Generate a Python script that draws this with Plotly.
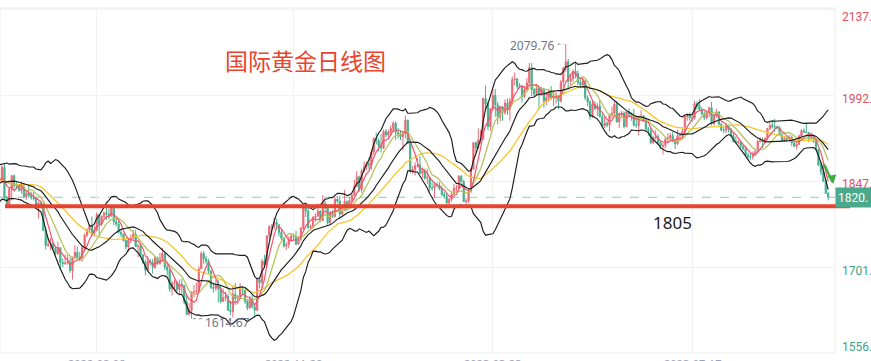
import pandas as pd
import plotly.graph_objects as go

# ---------------- data ----------------
# closes before the first visible candle (only used to warm up the indicators)
hist_close = [1896, 1863, 1868, 1881, 1876, 1883, 1854, 1838, 1853, 1822, 1811, 1824, 1815, 1815, 1841,
              1846, 1853, 1866, 1853, 1851, 1853, 1855, 1837, 1847, 1868, 1851, 1841, 1852, 1853, 1848]

close = [
    1871, 1819, 1808, 1834, 1857, 1840, 1839, 1832, 1838, 1822, 1827, 1823, 1820, 1818, 1807,
    1811, 1809, 1764, 1739, 1740, 1742, 1734, 1725, 1735, 1710, 1708, 1709, 1711, 1696, 1718, 1727, 1719, 1717, 1735, 1756, 1765,
    1772, 1760, 1765, 1791, 1775, 1788, 1794, 1792, 1789, 1802, 1779, 1775, 1761, 1758, 1747, 1736, 1748, 1751, 1758, 1737, 1738, 1723, 1711,
    1697, 1712, 1710, 1702, 1718, 1708, 1716, 1725, 1702, 1697, 1665, 1675, 1676, 1664, 1673, 1671, 1643, 1622, 1628, 1660, 1660, 1661,
    1699, 1725, 1716, 1712, 1695, 1668, 1666, 1673, 1666, 1644, 1650, 1652, 1629, 1627, 1656, 1649, 1652, 1665, 1663, 1644, 1633,
    1648, 1635, 1629, 1681, 1676, 1712, 1706, 1755, 1771, 1771, 1778, 1774, 1761, 1751, 1738, 1740, 1749, 1755, 1754, 1741, 1749, 1768,
    1803, 1797, 1769, 1771, 1786, 1789, 1797, 1781, 1810, 1807, 1777, 1793, 1788, 1817, 1814, 1792, 1798, 1813, 1804, 1815, 1824,
    1839, 1855, 1833, 1865, 1872, 1877, 1875, 1897, 1920, 1916, 1908, 1904, 1932, 1926, 1931, 1937, 1946, 1930, 1928, 1923, 1928,
    1951, 1912, 1865, 1867, 1874, 1875, 1861, 1865, 1853, 1854, 1836, 1836, 1842, 1841, 1835, 1825, 1822, 1811, 1817, 1826,
    1836, 1836, 1856, 1847, 1813, 1814, 1831, 1868, 1913, 1904, 1918, 1919, 1988, 1978, 1940, 1970, 1993, 1977, 1956, 1973, 1964, 1980, 1969,
    1984, 2020, 2021, 2008, 2007, 1991, 2003, 2014, 2040, 2003, 1995, 2005, 1994, 2004, 1983, 1989, 1998, 1989, 1989, 1990,
    1983, 2016, 2039, 2050, 2017, 2021, 2034, 2030, 2015, 2011, 2017, 1989, 1982, 1957, 1978, 1971, 1975, 1957, 1941, 1946, 1943, 1959, 1963,
    1978, 1948, 1961, 1963, 1940, 1965, 1961, 1957, 1943, 1942, 1957, 1958, 1951, 1936, 1933, 1913, 1921, 1923, 1913, 1907, 1908, 1919,
    1921, 1925, 1915, 1911, 1925, 1925, 1932, 1957, 1961, 1955, 1955, 1979, 1977, 1969, 1962, 1955, 1965, 1972, 1945, 1959, 1965,
    1944, 1934, 1934, 1943, 1936, 1925, 1915, 1913, 1914, 1907, 1902, 1892, 1889, 1889, 1894, 1898, 1915, 1917, 1914, 1920, 1937, 1942, 1940,
    1940, 1938, 1926, 1916, 1920, 1919, 1922, 1913, 1907, 1910, 1924, 1933, 1931, 1930, 1920, 1925, 1915, 1901, 1875, 1864, 1848,
    1827, 1820.4,
]

high = [
    1875, 1877, 1823, 1837, 1858, 1859, 1846, 1842, 1847, 1845, 1831, 1840, 1830, 1829, 1821,
    1813, 1812, 1812, 1770, 1752, 1752, 1745, 1737, 1745, 1736, 1717, 1724, 1723, 1719, 1720, 1739, 1737, 1728, 1738, 1759, 1768,
    1775, 1788, 1772, 1795, 1792, 1790, 1796, 1807, 1801, 1802, 1802, 1784, 1782, 1766, 1759, 1749, 1750, 1757, 1765, 1765, 1742, 1740, 1724,
    1715, 1721, 1716, 1716, 1721, 1720, 1726, 1735, 1729, 1707, 1699, 1679, 1681, 1678, 1681, 1682, 1672, 1654, 1641, 1661, 1672, 1676,
    1703, 1729, 1729, 1721, 1716, 1697, 1676, 1680, 1681, 1671, 1666, 1660, 1656, 1645, 1670, 1675, 1655, 1675, 1670, 1667, 1648,
    1653, 1657, 1638, 1683, 1683, 1716, 1723, 1756, 1773, 1775, 1786, 1784, 1774, 1767, 1752, 1744, 1754, 1759, 1759, 1764, 1755, 1770,
    1805, 1805, 1810, 1774, 1789, 1793, 1810, 1798, 1824, 1814, 1808, 1798, 1799, 1821, 1823, 1823, 1800, 1833, 1815, 1820, 1826,
    1850, 1865, 1857, 1869, 1881, 1880, 1887, 1901, 1922, 1930, 1920, 1928, 1935, 1936, 1935, 1942, 1949, 1949, 1938, 1934, 1932,
    1959, 1952, 1919, 1873, 1880, 1887, 1890, 1871, 1869, 1869, 1856, 1846, 1845, 1846, 1847, 1840, 1830, 1827, 1819, 1830,
    1843, 1841, 1858, 1858, 1850, 1819, 1834, 1870, 1914, 1915, 1937, 1935, 1989, 2010, 1983, 1972, 2003, 2004, 1982, 1975, 1975, 1986, 1988,
    1989, 2025, 2032, 2022, 2014, 2010, 2009, 2022, 2048, 2048, 2006, 2012, 2008, 2008, 2006, 1994, 2003, 2009, 1999, 1999,
    1991, 2019, 2041, 2079.76, 2055, 2028, 2037, 2048, 2035, 2021, 2022, 2020, 1993, 1985, 1984, 1983, 1980, 1985, 1962, 1957, 1950, 1961, 1974,
    1983, 1983, 1964, 1967, 1966, 1967, 1971, 1964, 1970, 1959, 1959, 1968, 1960, 1953, 1940, 1939, 1925, 1934, 1927, 1916, 1912, 1922,
    1929, 1930, 1931, 1919, 1935, 1930, 1937, 1960, 1963, 1964, 1960, 1984, 1983, 1987, 1973, 1966, 1966, 1974, 1982, 1962, 1970,
    1966, 1947, 1940, 1946, 1943, 1938, 1929, 1923, 1918, 1916, 1910, 1905, 1896, 1895, 1898, 1903, 1918, 1922, 1922, 1922, 1938, 1948, 1949,
    1953, 1942, 1941, 1928, 1923, 1924, 1926, 1925, 1917, 1915, 1927, 1936, 1937, 1947, 1931, 1930, 1926, 1917, 1903, 1880, 1880,
    1850, 1830,
]

low = [
    1844, 1815, 1805, 1806, 1815, 1835, 1834, 1830, 1826, 1820, 1816, 1820, 1816, 1815, 1805,
    1784, 1804, 1763, 1732, 1736, 1731, 1731, 1722, 1723, 1697, 1702, 1706, 1706, 1692, 1681, 1717, 1716, 1712, 1711, 1731, 1753,
    1761, 1754, 1754, 1762, 1754, 1772, 1784, 1782, 1783, 1787, 1773, 1771, 1759, 1753, 1745, 1732, 1728, 1743, 1749, 1736, 1719, 1721, 1708,
    1688, 1696, 1705, 1691, 1699, 1706, 1706, 1712, 1697, 1688, 1660, 1654, 1662, 1660, 1654, 1657, 1639, 1621, 1620, 1614.67, 1651, 1655,
    1659, 1699, 1708, 1707, 1691, 1665, 1659, 1662, 1642, 1641, 1643, 1645, 1628, 1621, 1617, 1638, 1639, 1651, 1657, 1640, 1629,
    1631, 1632, 1617, 1628, 1666, 1667, 1703, 1701, 1749, 1755, 1766, 1765, 1754, 1747, 1735, 1731, 1734, 1746, 1747, 1739, 1740, 1746,
    1765, 1787, 1767, 1765, 1768, 1779, 1787, 1778, 1780, 1798, 1774, 1776, 1785, 1786, 1810, 1784, 1790, 1797, 1797, 1802, 1812,
    1822, 1838, 1830, 1828, 1863, 1866, 1868, 1867, 1892, 1910, 1898, 1896, 1902, 1922, 1918, 1924, 1930, 1917, 1920, 1917, 1900,
    1920, 1911, 1861, 1860, 1857, 1871, 1860, 1853, 1850, 1843, 1830, 1831, 1819, 1837, 1832, 1822, 1818, 1808, 1804, 1813,
    1823, 1830, 1834, 1845, 1813, 1809, 1811, 1828, 1867, 1896, 1902, 1911, 1918, 1970, 1934, 1933, 1967, 1957, 1944, 1949, 1950, 1960, 1960,
    1950, 1980, 2010, 2004, 2005, 1981, 1989, 2000, 2013, 1992, 1991, 1994, 1969, 1992, 1972, 1976, 1982, 1985, 1975, 1979,
    1970, 1981, 2006, 2033, 2002, 2010, 2016, 2022, 2010, 2005, 2006, 1985, 1975, 1952, 1955, 1968, 1958, 1956, 1937, 1938, 1939, 1932, 1954,
    1957, 1947, 1938, 1955, 1937, 1940, 1958, 1950, 1940, 1938, 1925, 1954, 1948, 1932, 1925, 1911, 1910, 1918, 1911, 1902, 1893, 1903,
    1913, 1918, 1914, 1902, 1909, 1917, 1922, 1928, 1950, 1950, 1948, 1952, 1969, 1967, 1959, 1951, 1952, 1956, 1942, 1942, 1955,
    1942, 1932, 1929, 1929, 1930, 1922, 1913, 1910, 1910, 1904, 1900, 1890, 1885, 1884, 1884, 1891, 1895, 1913, 1904, 1913, 1917, 1934, 1937,
    1931, 1935, 1924, 1915, 1914, 1915, 1915, 1907, 1905, 1901, 1910, 1922, 1929, 1929, 1914, 1919, 1913, 1900, 1873, 1858, 1846,
    1826, 1815,
]

x_tick_idx = [39, 120, 202, 284]
x_tick_text = ["2022-08-08", "2022-11-29", "2023-03-23", "2023-07-17"]
y_tick_vals = [1556.56, 1701.86, 1847.16, 1992.46, 2137.76]
y_tick_text = ["1556.", "1701.", "1847.", "1992.", "2137."]
support_level = 1805
support_text = "1805"
title_text = "国际黄金日线图"
high_mark = 2079.76
low_mark = 1614.67

assert len(close) == len(high) == len(low)

# ---------------- derived ----------------
n = len(close)
idx = list(range(n))
open_ = [hist_close[-1]] + close[:-1]          # daily open = previous close
high = [max(h, o, c) for h, o, c in zip(high, open_, close)]
low = [min(l, o, c) for l, o, c in zip(low, open_, close)]

s = pd.Series(hist_close + close, dtype=float)
k = len(hist_close)
ma5 = s.rolling(5).mean()
ma10 = s.rolling(10).mean()
ma30 = s.rolling(30).mean()
mid = s.rolling(20).mean()
sd = s.rolling(20).std(ddof=0)
upper = mid + 2 * sd
lower = mid - 2 * sd
xi = list(range(-1, n))
sl = slice(k - 1, k + n)

UP = "#e96b76"
DN = "#45b08f"

fig = go.Figure()
fig.add_trace(go.Candlestick(
    x=idx, open=open_, high=high, low=low, close=close,
    increasing=dict(line=dict(color=UP, width=1), fillcolor=UP),
    decreasing=dict(line=dict(color=DN, width=1), fillcolor=DN),
    whiskerwidth=0, hoverinfo="skip", showlegend=False))

def line(y, color, width):
    fig.add_trace(go.Scatter(x=xi, y=list(y[sl]), mode="lines",
                             line=dict(color=color, width=width),
                             hoverinfo="skip", showlegend=False))

line(ma30, "#f8c630", 1.3)
line(ma10, "#b9c35e", 1.3)
line(ma5, "#f0556d", 1.2)
line(upper, "#1c1c1c", 1.15)
line(mid, "#1c1c1c", 1.15)
line(lower, "#1c1c1c", 1.15)

W, H = 871, 361
L, R, T, B = 0, 36, 8, 8
PW, PH = W - L - R, H - T - B

def px(xp):
    return (xp - L) / PW

def py(yp):
    return (H - B - yp) / PH

shapes = [
    dict(type="rect", xref="paper", yref="paper", x0=0, x1=1, y0=0, y1=1,
         line=dict(color="#ececec", width=1), layer="below"),
    dict(type="line", xref="paper", yref="y", x0=0, x1=1, y0=close[-1], y1=close[-1],
         line=dict(color="#86cfb7", width=1, dash="dash"), layer="below"),
    dict(type="line", xref="paper", yref="y", x0=px(5), x1=px(850),
         y0=support_level, y1=support_level, line=dict(color="#e8432d", width=4)),
    dict(type="line", xref="x", yref="y", x0=228.6, x1=231.4, y0=high_mark, y1=high_mark,
         line=dict(color="#8a8fa0", width=1, dash="dot")),
    dict(type="line", xref="x", yref="y", x0=78.6, x1=82.6, y0=low_mark, y1=low_mark,
         line=dict(color="#8a8fa0", width=1, dash="dot")),
    # hand-drawn green arrow shaft at the right end
    dict(type="line", xref="x", yref="y", x0=338.4, x1=341.8, y0=1876, y1=1846,
         line=dict(color="#3fae3f", width=2.2)),
]

ann = []
ann.append(dict(xref="paper", yref="paper", x=px(305), y=py(60), text=title_text,
                showarrow=False, xanchor="center", yanchor="middle",
                font=dict(family="Noto Sans CJK SC", size=23, color="#e8452e")))
ann.append(dict(xref="paper", yref="paper", x=px(672), y=py(222), text=support_text,
                showarrow=False, xanchor="center", yanchor="middle",
                font=dict(family="Noto Sans", size=17, color="#1a1a1a")))
ann.append(dict(xref="x", yref="y", x=228.4, y=high_mark, text=f"{high_mark:.2f}",
                showarrow=False, xanchor="right", yanchor="middle", yshift=-1,
                font=dict(family="Noto Sans", size=12, color="#6f7487")))
ann.append(dict(xref="x", yref="y", x=82.8, y=low_mark, text=f"{low_mark:.2f}",
                showarrow=False, xanchor="left", yanchor="middle", yshift=-4,
                font=dict(family="Noto Sans", size=12, color="#6f7487")))
shift = {1556.56: 6, 1701.86: -4, 1847.16: -3, 1992.46: -3, 2137.76: -7}
for v, t in zip(y_tick_vals, y_tick_text):
    col = "#e0505f" if v > close[-1] else "#3aa587"
    ann.append(dict(xref="paper", yref="y", x=px(840), y=v, text=t, showarrow=False,
                    xanchor="left", yanchor="middle", yshift=shift[v],
                    font=dict(family="Roboto", size=12, color=col)))
ann.append(dict(xref="paper", yref="y", x=px(835), y=close[-1], text=f"{int(close[-1])}.",
                showarrow=False, xanchor="left", yanchor="middle", align="left",
                bgcolor="#4aa98a", width=34, height=15, borderpad=2, xshift=0,
                font=dict(family="Roboto", size=12, color="white")))
for v, t in zip(x_tick_idx, x_tick_text):
    ann.append(dict(xref="x", yref="paper", x=v, y=py(354), text=t, showarrow=False,
                    xanchor="center", yanchor="top",
                    font=dict(family="Noto Sans", size=11, color="#9aa1ba")))
ann.append(dict(xref="x", yref="y", x=342.1, y=1843, ax=-1, ay=-6, text="",
                showarrow=True, arrowhead=2, arrowsize=0.8, arrowwidth=2.2,
                arrowcolor="#3fae3f", standoff=0))

fig.update_layout(
    width=W, height=H, margin=dict(l=L, r=R, t=T, b=B),
    paper_bgcolor="white", plot_bgcolor="white",
    showlegend=False, shapes=shapes, annotations=ann,
    xaxis=dict(range=[-0.82, 342.8], tickvals=x_tick_idx, showticklabels=False,
               showgrid=True, gridcolor="#f1f1f3", zeroline=False,
               rangeslider=dict(visible=False), ticks=""),
    yaxis=dict(range=[1556.56, 2141.1], tickvals=y_tick_vals, showticklabels=False,
               showgrid=True, gridcolor="#f1f1f3", zeroline=False, ticks=""),
)

fig.write_html("out.html", config={"displayModeBar": False},
               post_script="document.body.style.margin='0';document.body.style.overflow='hidden';")
